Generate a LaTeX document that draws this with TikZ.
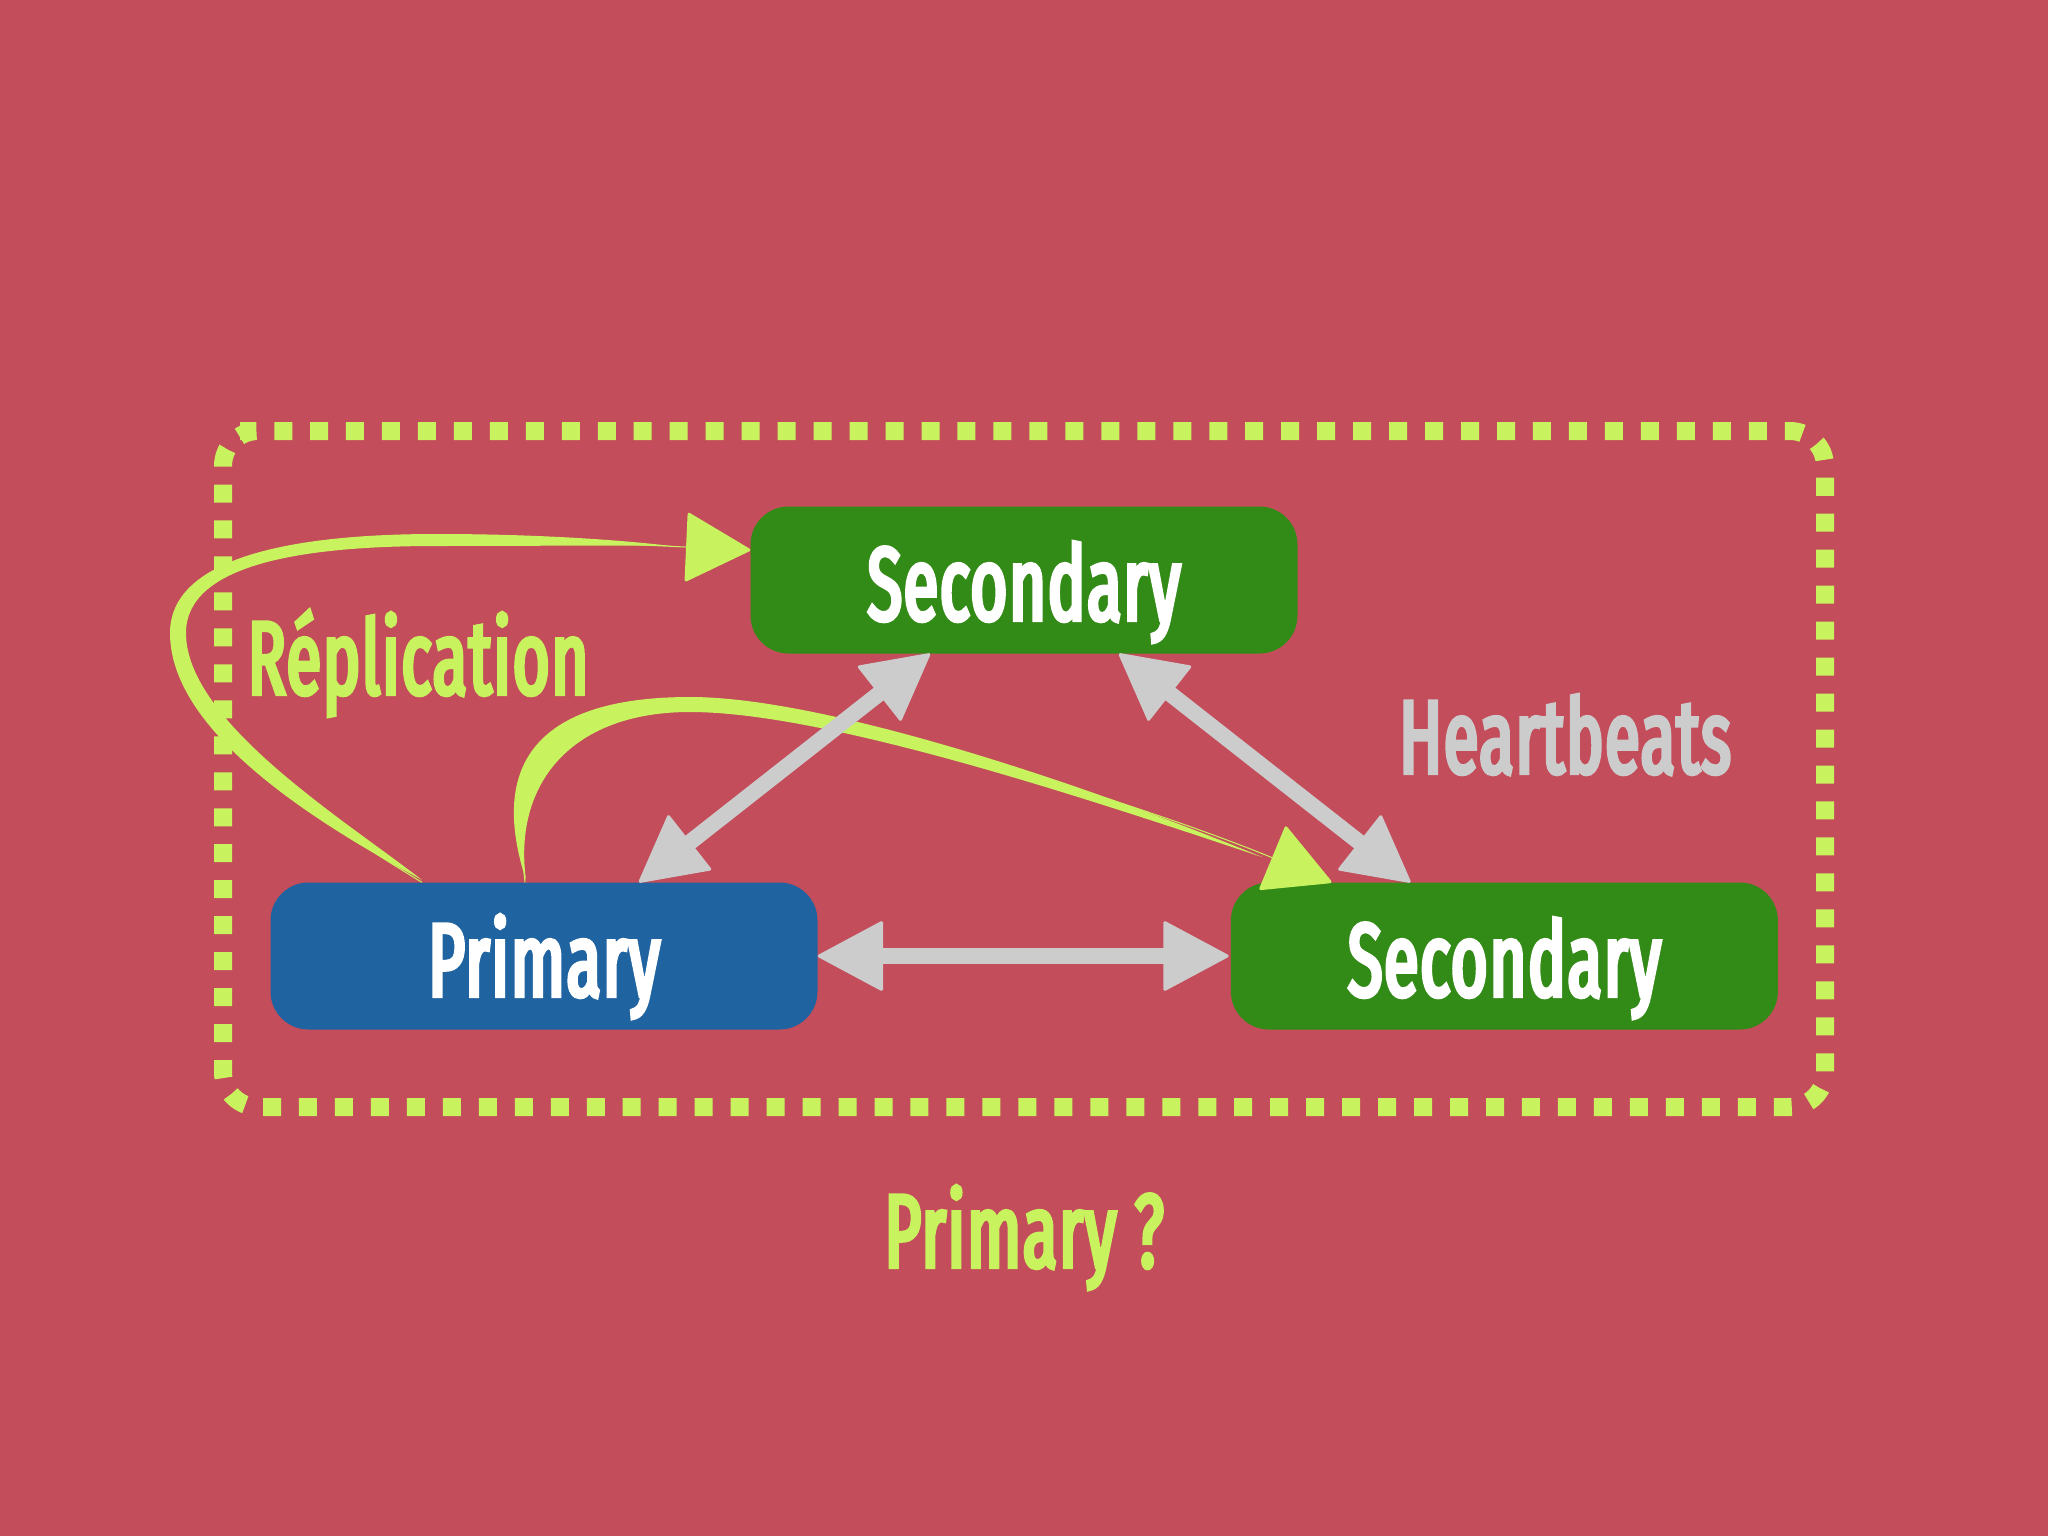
\documentclass[tikz,border=0pt]{standalone}
\usepackage{fontspec}
\setmainfont[FakeStretch=0.61,FakeBold=4,LetterSpace=1.5]{Fira Sans}
\usetikzlibrary{arrows.meta,positioning,calc}
\definecolor{slidebg}{HTML}{C34D5A}
\definecolor{limecol}{HTML}{C8F35F}
\definecolor{greencol}{HTML}{338B17}
\definecolor{bluecol}{HTML}{1F64A0}
\definecolor{greycol}{HTML}{CCCCCC}
\begin{document}
\begin{tikzpicture}[
    x=1pt,y=-1pt,
    nodebox/.style={rectangle,rounded corners=38pt,minimum width=547pt,minimum height=147pt,inner sep=0pt,
      text=white,font=\fontsize{104}{104}\selectfont,text height=80pt,text depth=0pt},
    caption/.style={anchor=base,inner sep=0pt,font=\fontsize{104}{104}\selectfont},
    framebox/.style={draw=limecol,line width=18pt,rounded corners=35pt,dash pattern=on 18pt off 17.97pt},
    repl/.style={draw=limecol,line width=1pt,-{Triangle[length=66pt,width=70pt,line width=3pt,round]}},
    brush/.style={fill=limecol},
    beat/.style={draw=greycol,line width=16pt,
      {Triangle[length=67pt,width=71pt,line width=3pt,round]}-{Triangle[length=67pt,width=71pt,line width=3pt,round]}}]
    \useasboundingbox (0,0) rectangle (2048,1536);
    \fill[slidebg] (0,0) rectangle (2048,1536);
    \draw[framebox] (275,431) -- (1825,431) -- (1825,1107) -- (223,1107) -- (223,431) -- cycle;
    \node[nodebox,fill=greencol] (secondarytop) at (1024,580) {Secondary};
    \node[nodebox,fill=bluecol] (primary) at (544,956) {Primary};
    \node[nodebox,fill=greencol,right=413pt of primary] (secondaryright) {Secondary};
    % replication
    \draw[repl] ([xshift=-122pt]primary.north) .. controls (327,825) and (178,727) .. (178,633)
      .. controls (178,560) and (300,540) .. (436,540) .. controls (540,540) and (620,544) .. ([yshift=30pt]secondarytop.west);
    \fill[brush] (422,880) .. controls (310,820) and (170,730) .. (170,633)
      .. controls (170,555) and (300,534) .. (436,534) .. controls (540,534) and (620,540) .. (672,546)
      .. controls (620,545) and (540,546) .. (436,546) .. controls (300,546) and (186,565) .. (186,633)
      .. controls (186,722) and (345,820) .. cycle;
    \draw[repl] ([xshift=-19pt]primary.north) .. controls (515,795) and (535,705) .. (690,705)
      .. controls (830,705) and (1150,807) .. ([xshift=-173pt]secondaryright.north);
    \fill[brush] (526,880) .. controls (500,800) and (500,697) .. (690,697)
      .. controls (830,697) and (1100,790) .. (1262,857)
      .. controls (1100,803) and (830,712) .. (690,712)
      .. controls (570,712) and (513,785) .. cycle;
    % heartbeats
    \draw[beat] (primary.east) -- ([xshift=-2pt]secondaryright.west);
    \draw[beat] ([xshift=95pt]primary.north) -- ([xshift=-94pt]secondarytop.south);
    \draw[beat] ([xshift=95pt]secondarytop.south) -- ([xshift=-94pt]secondaryright.north);
    % labels
    \node[caption,text=limecol] (replication) at (418,694) {Réplication};
    \node[caption,text=greycol] (heartbeats) at (1565,773) {Heartbeats};
    \node[caption,text=limecol] (question) at (1024,1267) {Primary ?};
  \end{tikzpicture}
\end{document}
